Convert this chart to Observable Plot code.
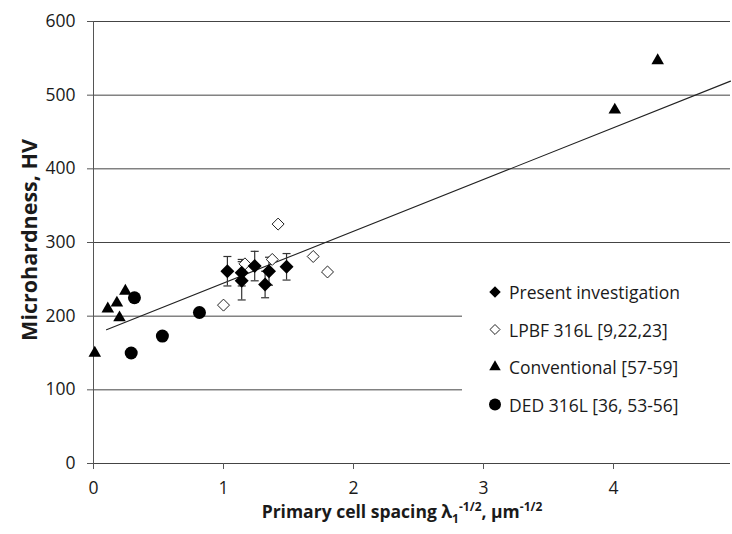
<!DOCTYPE html>
<html>
<head>
<meta charset="utf-8">
<script src="https://cdn.jsdelivr.net/npm/d3@7"></script>
<script src="https://cdn.jsdelivr.net/npm/@observablehq/plot@0.6"></script>
<style>
  html, body { margin: 0; padding: 0; background: #fff; }
  #chart { position: relative; width: 732px; height: 534px; }
</style>
</head>
<body>
<div id="chart"></div>
<script>
// ---- data ----
const xTicks = [0, 1, 2, 3, 4];
const yTicks = [0, 100, 200, 300, 400, 500, 600];

const presentX   = [1.03, 1.14, 1.14, 1.24, 1.35, 1.32, 1.485];
const presentY   = [261, 259, 248, 268, 261, 243, 267];
const presentErr = [20, 18, 26, 20, 19, 18, 18];

const lpbfX = [1.0, 1.165, 1.375, 1.42, 1.69, 1.80];
const lpbfY = [215, 271, 277, 325, 281, 260];

const convX = [0.01, 0.11, 0.18, 0.20, 0.245, 4.01, 4.34];
const convY = [150, 210, 218, 198, 234, 480, 547];

const dedX = [0.29, 0.315, 0.53, 0.815];
const dedY = [150, 225, 173, 205];

const fitSlope = 70.3;
const fitIntercept = 174.6;
const fitRange = [0.1, 4.9];

const legendLabels = ["Present investigation", "LPBF 316L [9,22,23]", "Conventional [57-59]", "DED 316L [36, 53-56]"];

// ---- tables ----
const zip = (xs, ys) => xs.map((x, i) => ({x, y: ys[i]}));
const present = presentX.map((x, i) => ({x, y: presentY[i], lo: presentY[i] - presentErr[i], hi: presentY[i] + presentErr[i]}));
const lpbf = zip(lpbfX, lpbfY);
const conv = zip(convX, convY);
const ded = zip(dedX, dedY);
const fit = fitRange.map(x => ({x, y: fitSlope * x + fitIntercept}));

const cap = { draw(ctx) { ctx.moveTo(-4, 0); ctx.lineTo(4, 0); } };

const font = "'Open Sans', sans-serif";

const plot = Plot.plot({
  width: 732,
  height: 534,
  marginLeft: 93,
  marginRight: 2,
  marginTop: 21,
  marginBottom: 71,
  style: { fontFamily: font, fontSize: "17.5px", color: "#1a1a1a", background: "white" },
  x: { domain: [0, 4.9] },
  y: { domain: [0, 600] },
  marks: [
    Plot.ruleY(yTicks, { stroke: "#444", strokeWidth: 1 }),
    Plot.ruleX([0], { y1: 0, y2: 600, stroke: "#555", strokeWidth: 1 }),
    Plot.axisX({ ticks: xTicks, tickSize: 6, tickPadding: 12, tickFormat: d => String(d), label: null, stroke: "#555" }),
    Plot.axisY({ ticks: yTicks, tickSize: 6, tickPadding: 12, tickFormat: d => String(d), label: null, stroke: "#555" }),
    Plot.line(fit, { x: "x", y: "y", stroke: "#222", strokeWidth: 1.1 }),
    Plot.ruleX(present, { x: "x", y1: "lo", y2: "hi", stroke: "#333", strokeWidth: 1.2 }),
    Plot.dot(present, { x: "x", y: "lo", symbol: cap, stroke: "#333", strokeWidth: 1.2 }),
    Plot.dot(present, { x: "x", y: "hi", symbol: cap, stroke: "#333", strokeWidth: 1.2 }),
    Plot.dot(lpbf, { x: "x", y: "y", symbol: "diamond2", r: 5.4, fill: "white", stroke: "#222", strokeWidth: 1 }),
    Plot.dot(conv, { x: "x", y: "y", symbol: "triangle2", r: 6, fill: "black", stroke: "none" }),
    Plot.dot(ded, { x: "x", y: "y", symbol: "circle", r: 6.5, fill: "black", stroke: "none" }),
    Plot.dot(present, { x: "x", y: "y", symbol: "diamond2", r: 6.3, fill: "black", stroke: "none" })
  ]
});

document.getElementById("chart").appendChild(plot);

const svg = d3.select(plot);

// Axis titles
svg.append("text")
  .attr("transform", "translate(31,240) rotate(-90)")
  .attr("text-anchor", "middle")
  .attr("dominant-baseline", "middle")
  .attr("font-family", font)
  .attr("font-weight", "bold")
  .attr("font-size", 21.5)
  .attr("fill", "#1a1a1a")
  .text("Microhardness, HV");

const xt = svg.append("text")
  .attr("x", 402)
  .attr("y", 518)
  .attr("text-anchor", "middle")
  .attr("font-family", font)
  .attr("font-weight", "bold")
  .attr("font-size", 17.5)
  .attr("fill", "#1a1a1a");
xt.append("tspan").text("Primary cell spacing λ");
xt.append("tspan").attr("font-size", 12).attr("dy", 5).text("1");
xt.append("tspan").attr("font-size", 12).attr("dy", -12).text("-1/2");
xt.append("tspan").attr("dy", 7).text(", μm");
xt.append("tspan").attr("font-size", 12).attr("dy", -7).text("-1/2");

// Legend
const lg = svg.append("g").attr("transform", "translate(462,268)");
lg.append("rect").attr("width", 270).attr("height", 175).attr("fill", "white");
const symDefs = [
  { sym: d3.symbolDiamond2, size: Math.PI * 5.2 * 5.2, fill: "black", stroke: "none" },
  { sym: d3.symbolDiamond2, size: Math.PI * 4.5 * 4.5, fill: "white", stroke: "#222" },
  { sym: d3.symbolTriangle2, size: Math.PI * 5.5 * 5.5, fill: "black", stroke: "none" },
  { sym: d3.symbolCircle, size: Math.PI * 6 * 6, fill: "black", stroke: "none" }
];
legendLabels.forEach((label, i) => {
  const cy = 24 + i * 37.5;
  const s = symDefs[i];
  lg.append("path")
    .attr("transform", `translate(33,${cy})`)
    .attr("d", d3.symbol(s.sym, s.size)())
    .attr("fill", s.fill)
    .attr("stroke", s.stroke);
  lg.append("text")
    .attr("x", 47)
    .attr("y", cy)
    .attr("text-anchor", "start")
    .attr("dominant-baseline", "central")
    .attr("font-family", font)
    .attr("font-size", 17.5)
    .attr("fill", "#1a1a1a")
    .text(label);
});
</script>
</body>
</html>
